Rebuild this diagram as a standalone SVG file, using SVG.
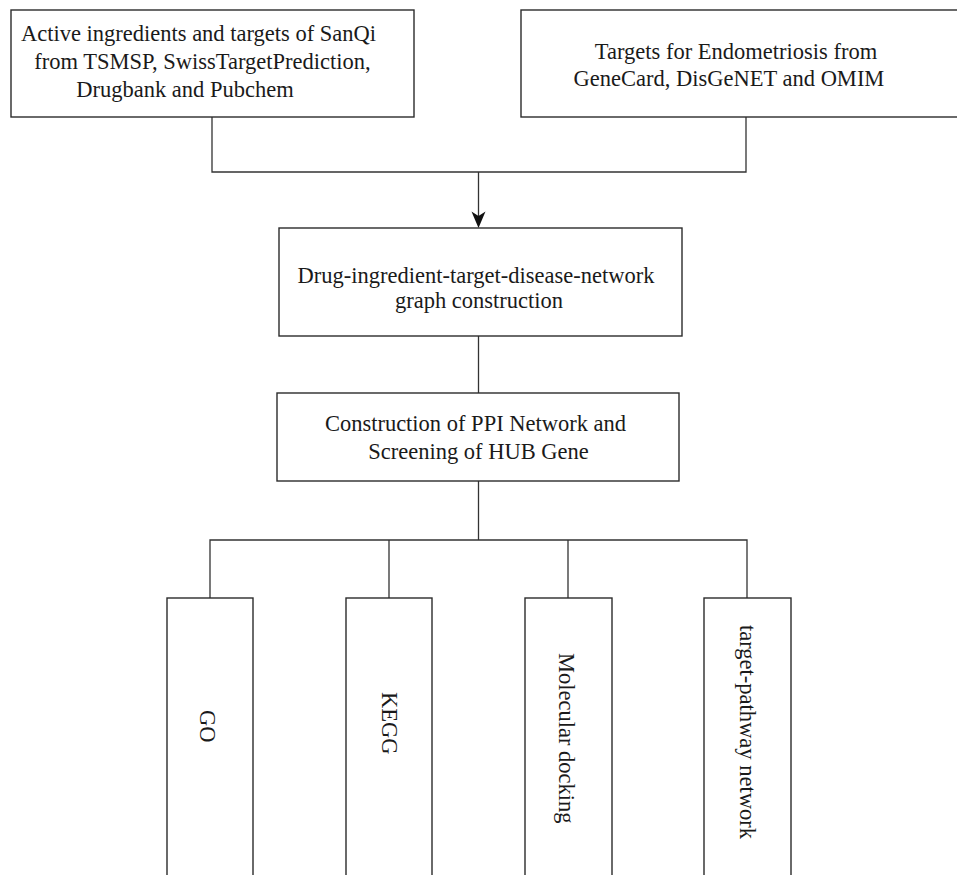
<svg xmlns="http://www.w3.org/2000/svg" width="957" height="875" viewBox="0 0 957 875">
<style>
.box{fill:#fff;stroke:#2b2b2b;stroke-width:1.4}
.ln{fill:none;stroke:#333;stroke-width:1.3}
text{font-family:"Liberation Serif","Times New Roman",serif;font-size:22.5px;fill:#1a1a1a}
.c{text-anchor:middle}
.v{dominant-baseline:central}
</style>
<rect width="957" height="875" fill="#fff"/>
<g id="connectors">
<path class="ln" d="M212,117 V172 H746 V117"/>
<path class="ln" d="M478.5,172 V218"/>
<path d="M478.5,228 L471.5,211.5 L478.5,216 L485.5,211.5 Z" fill="#111"/>
<path class="ln" d="M478.5,336 V393"/>
<path class="ln" d="M478.5,481 V540"/>
<path class="ln" d="M210,598 V540 H747 V598 M389,540 V598 M568,540 V598"/>
</g>
<g id="node-sanqi">
<rect class="box" x="11" y="10" width="403" height="107"/>
<text class="c" x="198.5" y="41">Active ingredients and targets of SanQi</text>
<text class="c" x="202.5" y="69">from TSMSP, SwissTargetPrediction,</text>
<text class="c" x="185" y="97">Drugbank and Pubchem</text>
</g>
<g id="node-endometriosis">
<rect class="box" x="521" y="10" width="445" height="107"/>
<text class="c" x="736" y="59">Targets for Endometriosis from</text>
<text class="c" x="729" y="86">GeneCard, DisGeNET and OMIM</text>
</g>
<g id="node-network">
<rect class="box" x="279" y="228" width="403" height="108"/>
<text class="c" x="476" y="283">Drug-ingredient-target-disease-network</text>
<text class="c" x="479" y="308">graph construction</text>
</g>
<g id="node-ppi">
<rect class="box" x="277" y="393" width="402" height="88"/>
<text class="c" x="475.5" y="431">Construction of PPI Network and</text>
<text class="c" x="478.5" y="459">Screening of HUB Gene</text>
</g>
<g id="node-go">
<rect class="box" x="167" y="598" width="86" height="300"/>
<text class="v" transform="translate(207,710) rotate(90)">GO</text>
</g>
<g id="node-kegg">
<rect class="box" x="346" y="598" width="86" height="300"/>
<text class="v" transform="translate(389,692) rotate(90)">KEGG</text>
</g>
<g id="node-docking">
<rect class="box" x="525" y="598" width="87" height="300"/>
<text class="v" transform="translate(566,653) rotate(90)">Molecular docking</text>
</g>
<g id="node-pathway">
<rect class="box" x="704" y="598" width="87" height="300"/>
<text class="v" transform="translate(747,625) rotate(90)">target-pathway network</text>
</g>
</svg>
